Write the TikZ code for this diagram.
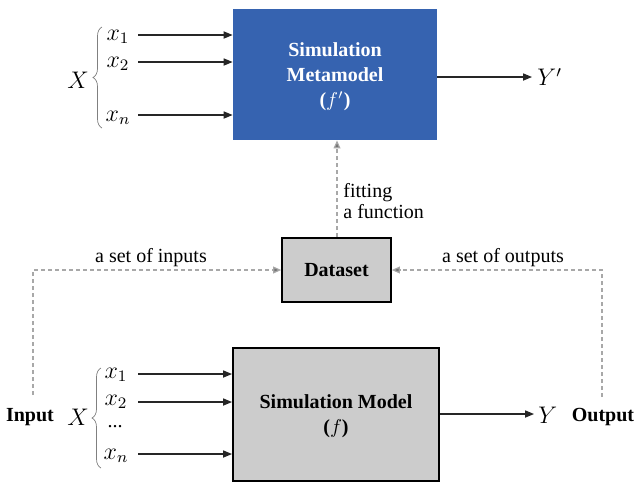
\documentclass[tikz,border=0pt]{standalone}
\usepackage{fontspec}
\setmainfont{Liberation Serif}
\usetikzlibrary{arrows.meta,decorations.pathreplacing}
\definecolor{metablue}{RGB}{54,99,176}
\definecolor{boxgray}{RGB}{204,204,204}
\definecolor{dashgray}{RGB}{168,168,168}
\begin{document}
\begin{tikzpicture}[x=0.5pt,y=-0.5pt,
  font=\fontsize{10}{12}\selectfont,
  flow/.style={draw=black!85,line width=0.55pt,-{Triangle[length=4.5pt,width=3.6pt]}},
  feed/.style={draw=dashgray,line width=0.6pt,dash pattern=on 2pt off 1.5pt,
    -{Triangle[length=4pt,width=3.4pt,fill=black!55]}},
  lbl/.style={inner sep=0pt},
  sym/.style={inner sep=0pt,font=\fontsize{12}{14}\selectfont},
  curly/.style={draw=black!50,line width=0.35pt,decorate,decoration={brace,amplitude=4.5pt}},
  boldtext/.style={font=\fontsize{10}{12.5}\selectfont\bfseries,align=center}]
\useasboundingbox (0,0) rectangle (635,483);

% ---- metamodel (top) ----
\path[fill=metablue] (233,9) rectangle (437,140);
\node[minimum width=102pt,minimum height=65.5pt,inner sep=0pt] (meta) at (335,74.5) {};
\node[boldtext,text=white] (metatext) at (335,77) {Simulation\\Metamodel\\($f'$)};

\node[sym] (tX) at (78,80) {$X$};
\node[sym] (tx1) at (118,37) {$x_1$};
\node[sym] (tx2) at (118,64) {$x_2$};
\node[sym] (txn) at (118,118) {$x_n$};
\draw[curly] (102,128) -- (102,27);

\coordinate (ta1) at (138,35);
\coordinate (ta2) at (138,62);
\coordinate (tan) at (138,115);
\draw[flow] (ta1) -- (ta1 -| meta.west);
\draw[flow] (ta2) -- (ta2 -| meta.west);
\draw[flow] (tan) -- (tan -| meta.west);

\coordinate (tout) at (532,77);
\node[sym,anchor=west] (tY) at (537,77) {$Y'$};
\draw[flow] (tout -| meta.east) -- (tout);

% ---- dataset ----
\node[draw=black,line width=0.8pt,fill=boxgray,minimum width=54.5pt,minimum height=32pt,
  inner sep=0pt,font=\fontsize{10}{12}\selectfont\bfseries] (data) at (336.5,270) {Dataset};

\draw[feed] (data.north -| 337,0) -- (meta.south -| 337,0);
\node[lbl,anchor=west,align=left,font=\fontsize{10}{9}\selectfont] (fit) at (343,201) {fitting\\a function};

\node (inL) at (30,417) {\bfseries Input};
\node (outL) at (603,417) {\bfseries Output};
\coordinate (inTop) at (33,395);
\coordinate (outTop) at (602,397);
\draw[feed] (inTop) |- (data.west);
\draw[feed] (outTop) |- (data.east);
\node[lbl] (setin) at (151,258) {a set of inputs};
\node[lbl] (setout) at (503,258) {a set of outputs};

% ---- simulation model (bottom) ----
\node[draw=black,line width=1pt,fill=boxgray,minimum width=103pt,minimum height=66.5pt,
  inner sep=0pt] (model) at (336,414.5) {};
\node[boldtext] (modeltext) at (336,416) {Simulation Model\\($f$)};

\node[sym] (bX) at (78,417) {$X$};
\node[sym] (bx1) at (116,375) {$x_1$};
\node[sym] (bx2) at (116,402) {$x_2$};
\node[lbl] (bdots) at (115,427) {...};
\node[sym] (bxn) at (116,456) {$x_n$};
\draw[curly] (101,468) -- (101,368);

\coordinate (ba1) at (138,374);
\coordinate (ba2) at (138,402);
\coordinate (ban) at (138,454);
\draw[flow] (ba1) -- (ba1 -| model.west);
\draw[flow] (ba2) -- (ba2 -| model.west);
\draw[flow] (ban) -- (ban -| model.west);

\coordinate (bout) at (534,414);
\node[sym,anchor=west] (bY) at (538,415) {$Y$};
\draw[flow] (bout -| model.east) -- (bout);
\end{tikzpicture}
\end{document}
